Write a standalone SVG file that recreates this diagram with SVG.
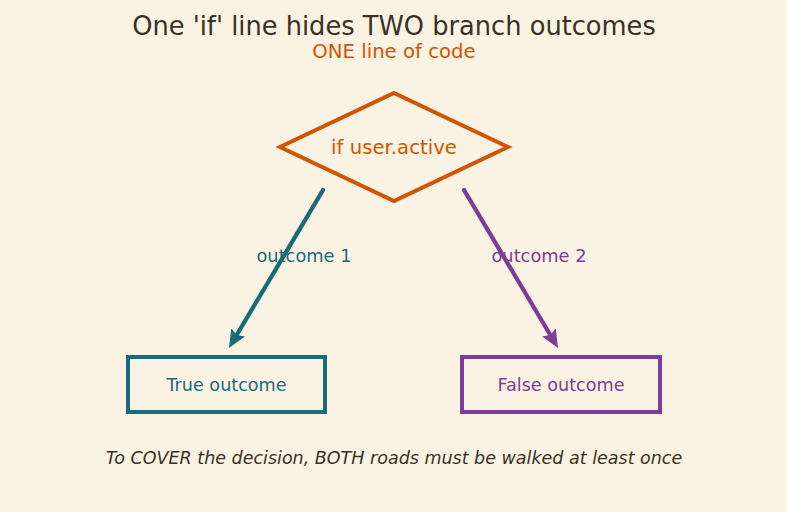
<svg xmlns="http://www.w3.org/2000/svg" width="787" height="512" viewBox="0 0 787 512">
<defs>
<style>
text{font-family:"DejaVu Sans","Noto Sans",sans-serif;text-anchor:middle;dominant-baseline:central}
.title{font-size:25.700px;fill:#3a3028}
.sub{font-size:19.700px;fill:#d35400}
.teal{fill:#1a6b78}
.purple{fill:#7d3c98}
.lbl{font-size:17.800px}
.box{font-size:17.600px}
.foot{font-size:17.500px;font-style:italic;fill:#3a3028}
</style>
<marker id="ah-teal" viewBox="0 0 18 16" refX="7" refY="8" markerWidth="18" markerHeight="16" orient="auto" markerUnits="userSpaceOnUse"><path d="M0,0 L18,8 L0,16 L3,8 z" fill="#1a6b78"/></marker>
<marker id="ah-purple" viewBox="0 0 18 16" refX="7" refY="8" markerWidth="18" markerHeight="16" orient="auto" markerUnits="userSpaceOnUse"><path d="M0,0 L18,8 L0,16 L3,8 z" fill="#7d3c98"/></marker>
</defs>
<rect width="787" height="512" fill="#faf3e3"/>
<text class="title" x="394" y="26">One 'if' line hides TWO branch outcomes</text>
<text class="sub" x="394" y="51">ONE line of code</text>
<g id="decision">
<polygon points="394,93 508,147 394,201 280,147" fill="none" stroke="#d35400" stroke-width="4" stroke-linejoin="miter"/>
<text class="sub" x="394" y="147">if user.active</text>
</g>
<g id="connectors">
<line x1="323" y1="190" x2="234.600" y2="338.500" stroke="#1a6b78" stroke-width="4.300" stroke-linecap="round" marker-end="url(#ah-teal)"/>
<line x1="464" y1="190" x2="552.400" y2="338.500" stroke="#7d3c98" stroke-width="4.300" stroke-linecap="round" marker-end="url(#ah-purple)"/>
<text class="lbl teal" x="304" y="255">outcome 1</text>
<text class="lbl purple" x="539" y="255">outcome 2</text>
</g>
<g id="true-outcome">
<rect x="128" y="357" width="197" height="55" fill="none" stroke="#1a6b78" stroke-width="4"/>
<text class="box teal" x="226.500" y="384.500">True outcome</text>
</g>
<g id="false-outcome">
<rect x="462" y="357" width="198" height="55" fill="none" stroke="#7d3c98" stroke-width="4"/>
<text class="box purple" x="561" y="384.500">False outcome</text>
</g>
<text class="foot" x="394" y="458">To COVER the decision, BOTH roads must be walked at least once</text>
</svg>
